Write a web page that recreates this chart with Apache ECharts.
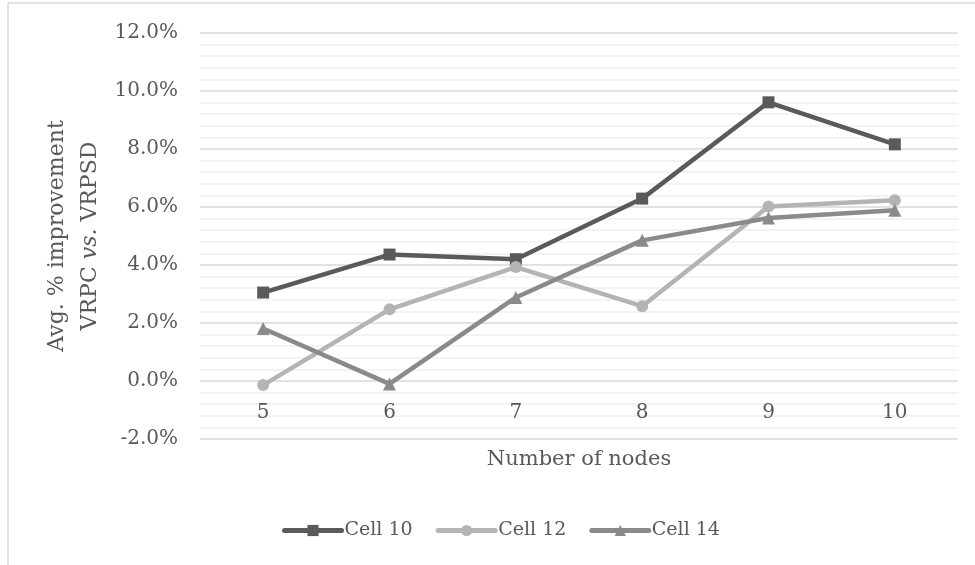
<!DOCTYPE html>
<html>
<head>
<meta charset="utf-8">
<script src="https://cdn.jsdelivr.net/npm/echarts@6/dist/echarts.min.js"></script>
<style>html,body{margin:0;padding:0;background:#fff;}#c{width:975px;height:565px;}</style>
</head>
<body>
<div id="c"></div>
<script>
var categories = ['5', '6', '7', '8', '9', '10'];
var cell10 = [3.05, 4.36, 4.20, 6.29, 9.61, 8.16];
var cell12 = [-0.14, 2.47, 3.93, 2.58, 6.02, 6.23];
var cell14 = [1.81, -0.10, 2.88, 4.85, 5.62, 5.89];
var seriesNames = ['Cell 10', 'Cell 12', 'Cell 14'];
var yTicks = { min: -2, max: 12, interval: 2 };

var FONT = 'DejaVu Serif';
var TXT = '#595959';
var chart = echarts.init(document.getElementById('c'), null, { renderer: 'canvas' });

function mk(name, data, color, symbol, size) {
  return {
    name: name, type: 'line', data: data,
    symbol: symbol, symbolSize: size, showSymbol: true,
    lineStyle: { color: color, width: 4.5 },
    itemStyle: { color: color },
    emphasis: { disabled: true },
    animation: false
  };
}

chart.setOption({
  animation: false,
  textStyle: { fontFamily: FONT, color: TXT },
  grid: { left: 200, right: 17, top: 33, bottom: 126, containLabel: false },
  xAxis: {
    type: 'category', data: categories, boundaryGap: true,
    axisLine: { show: false }, axisTick: { show: false },
    axisLabel: { fontFamily: FONT, fontSize: 20, color: TXT, margin: 22 },
    position: 'bottom', offset: -58,
    name: 'Number of nodes', nameLocation: 'middle', nameGap: 68,
    nameTextStyle: { fontFamily: FONT, fontSize: 21, color: TXT }
  },
  yAxis: {
    type: 'value', min: yTicks.min, max: yTicks.max, interval: yTicks.interval,
    axisLine: { show: false }, axisTick: { show: false },
    axisLabel: { fontFamily: FONT, fontSize: 20, color: TXT, margin: 22,
      formatter: function (v) { return v.toFixed(1) + '%'; } },
    splitLine: { show: true, lineStyle: { color: '#d9d9d9', width: 1.5 } },
    minorTick: { show: false, splitNumber: 5 },
    minorSplitLine: { show: true, lineStyle: { color: '#f0f0f0', width: 1.5 } },
    name: '{a|Avg. % improvement}\n{a|VRPC }{i|vs.}{a| VRPSD}',
    nameLocation: 'middle', nameRotate: 90, nameGap: 93,
    nameTextStyle: {
      rich: {
        a: { fontFamily: FONT, fontSize: 22, color: TXT, lineHeight: 33 },
        i: { fontFamily: FONT, fontSize: 22, color: TXT, fontStyle: 'italic', lineHeight: 33 }
      }
    }
  },
  legend: {
    data: seriesNames, top: 521, left: 282, padding: 0,
    itemWidth: 57, itemHeight: 14, itemGap: 23,
    lineStyle: { width: 5, cap: 'round' },
    textStyle: { fontFamily: FONT, fontSize: 19, color: TXT, padding: [0,0,0,-2] },
    selectedMode: false
  },
  graphic: [
    { type: 'line', shape: { x1: 8, y1: 3, x2: 975, y2: 3 }, style: { stroke: '#d9d9d9', lineWidth: 1.5 }, silent: true },
    { type: 'line', shape: { x1: 8, y1: 3, x2: 8, y2: 565 }, style: { stroke: '#d9d9d9', lineWidth: 1.5 }, silent: true }
  ],
  series: [
    mk(seriesNames[0], cell10, '#5a5a5a', 'rect', 12),
    mk(seriesNames[1], cell12, '#b4b4b4', 'circle', 12),
    mk(seriesNames[2], cell14, '#8a8a8a', 'triangle', 13)
  ]
});
</script>
</body>
</html>
